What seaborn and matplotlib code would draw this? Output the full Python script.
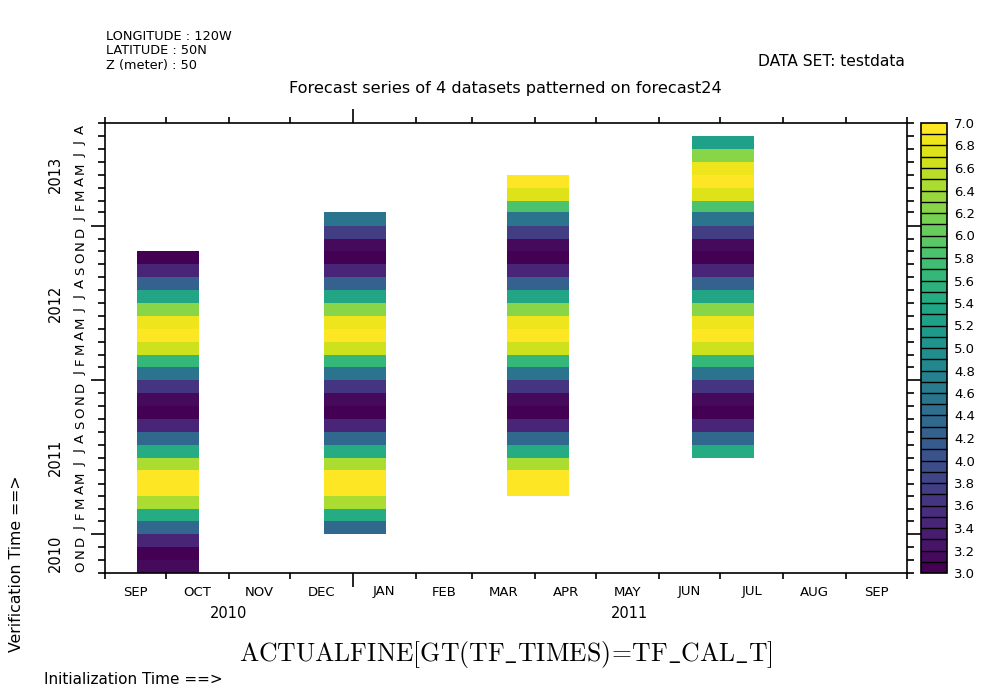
import numpy as np
import pandas as pd
import matplotlib
matplotlib.use("Agg")
import matplotlib.pyplot as plt
import matplotlib.dates as mdates
from matplotlib.colors import ListedColormap
from matplotlib.ticker import FormatStrFormatter
import seaborn as sns

sns.set_theme(style="white")
plt.rcParams['font.family'] = ['DejaVu Sans']
plt.rcParams.update({"text.color": "black", "axes.labelcolor": "black",
                     "xtick.color": "black", "ytick.color": "black"})

# ---------------- data ----------------
init_dates = ["2010-10-01", "2011-01-01", "2011-04-01", "2011-07-01"]
lead_count = 25
verif_start = "2010-10-01"
verif_end = "2013-07-01"
actual_values = [3.15, 3.02, 3.45,
                 4.38, 5.46, 6.40, 6.98, 6.98, 6.40, 5.46, 4.38, 3.45, 3.02, 3.15, 3.60,
                 4.50, 5.68, 6.60, 6.98, 6.88, 6.28, 5.32, 4.20, 3.42, 3.02, 3.15, 3.80,
                 4.60, 5.88, 6.72, 6.98, 6.88, 6.20, 5.28]
x_month_labels = ["SEP", "OCT", "NOV", "DEC", "JAN", "FEB", "MAR", "APR", "MAY",
                  "JUN", "JUL", "AUG", "SEP"]
x_year_labels = ["2010", "2011"]
y_month_letters = ["O", "N", "D",
                   "J", "F", "M", "A", "M", "J", "J", "A", "S", "O", "N", "D",
                   "J", "F", "M", "A", "M", "J", "J", "A", "S", "O", "N", "D",
                   "J", "F", "M", "A", "M", "J", "J", "A"]
y_year_labels = ["2010", "2011", "2012", "2013"]
x_range = ("2010-09-01", "2011-10-01")
y_range = ("2010-10-01", "2013-09-01")
cbar_levels = (3.0, 7.0, 40)

# ---------------- build table ----------------
verif_months = pd.date_range(verif_start, verif_end, freq="MS")
month_edges_all = pd.date_range(verif_start, pd.Timestamp(verif_end) + pd.offsets.MonthBegin(1), freq="MS")
rows = []
for init in init_dates:
    i0 = verif_months.get_loc(pd.Timestamp(init))
    for k in range(lead_count):
        vm = verif_months[i0 + k]
        nxt = vm + pd.offsets.MonthBegin(1)
        mid = vm + (nxt - vm) / 2
        rows.append(dict(init=mdates.date2num(pd.Timestamp(init)),
                         verif=mdates.date2num(mid),
                         value=actual_values[i0 + k]))
df = pd.DataFrame(rows)

lo_w, hi_w = 14.0, 16.5
x_edges = np.sort(np.concatenate([[mdates.date2num(pd.Timestamp(d)) - lo_w,
                                   mdates.date2num(pd.Timestamp(d)) + hi_w] for d in init_dates]))
y_edges = mdates.date2num(month_edges_all)

# ---------------- figure ----------------
W, H = 994, 696
fig = plt.figure(figsize=(W / 100, H / 100), dpi=100)
fig.patch.set_facecolor("white")
L, R, T, B = 105, 907, 123, 573
ax = fig.add_axes([L / W, (H - B) / H, (R - L) / W, (B - T) / H])
cax = fig.add_axes([921 / W, (H - B) / H, 26 / W, (B - T) / H])

vmin, vmax, nlev = cbar_levels
cmap = ListedColormap(matplotlib.colormaps["viridis"](np.linspace(0, 1, nlev))).with_extremes(under=(1, 1, 1, 0))

sns.histplot(data=df, x="init", y="verif", weights="value", bins=(x_edges, y_edges),
             cmap=cmap, vmin=vmin, vmax=vmax, cbar=True, cbar_ax=cax,
             cbar_kws=dict(drawedges=True, ticks=np.round(np.arange(vmin, vmax + 0.01, 0.2), 1)),
             ax=ax)

ax.set_xlim(mdates.date2num(pd.Timestamp(x_range[0])), mdates.date2num(pd.Timestamp(x_range[1])))
ax.set_ylim(mdates.date2num(pd.Timestamp(y_range[0])), mdates.date2num(pd.Timestamp(y_range[1])))
ax.set_xlabel("")
ax.set_ylabel("")
ax.set_facecolor("white")
for s in ax.spines.values():
    s.set_visible(True)
    s.set_color("black")
    s.set_linewidth(1.2)

# x ticks
x_starts = pd.date_range(x_range[0], x_range[1], freq="MS")
x_mids = [a + (b - a) / 2 for a, b in zip(x_starts[:-1], x_starts[1:])]
ax.set_xticks(mdates.date2num(x_starts))
ax.set_xticklabels([""] * len(x_starts))
ax.set_xticks(mdates.date2num(x_mids), minor=True)
ax.set_xticklabels(x_month_labels, minor=True, fontsize=9.5)
ax.tick_params(axis="x", which="major", bottom=True, top=True, direction="out",
               length=4, width=1.2, color="black")
ax.tick_params(axis="x", which="minor", bottom=True, top=False, length=0, pad=9, labelcolor="black")

# y ticks
y_starts = pd.date_range(y_range[0], y_range[1], freq="MS")
y_mids = [a + (b - a) / 2 for a, b in zip(y_starts[:-1], y_starts[1:])]
ax.set_yticks(mdates.date2num(y_starts))
ax.set_yticklabels([""] * len(y_starts))
ax.set_yticks(mdates.date2num(y_mids), minor=True)
ax.set_yticklabels(y_month_letters, minor=True, fontsize=9.5, rotation=90, va="center")
ax.tick_params(axis="y", which="major", left=True, right=True, direction="out",
               length=5, width=1.2, color="black")
ax.tick_params(axis="y", which="minor", left=True, right=False, length=0, pad=13, labelcolor="black")

for t, d in zip(ax.xaxis.get_major_ticks(), x_starts):
    if d.month == 1:
        t.tick1line.set_markersize(10)
        t.tick2line.set_markersize(10)
for t, d in zip(ax.yaxis.get_major_ticks(), y_starts):
    if d.month == 1:
        t.tick1line.set_markersize(10)
        t.tick2line.set_markersize(10)

# year labels
xlo, xhi = ax.get_xlim()
xb = [xlo] + [mdates.date2num(pd.Timestamp(f"{y}-01-01")) for y in x_year_labels[1:]] + [xhi]
for lab, a, b in zip(x_year_labels, xb[:-1], xb[1:]):
    ax.text((a + b) / 2, -0.091, lab, transform=ax.get_xaxis_transform(),
            ha="center", va="center", fontsize=10.5, color="black")
ylo, yhi = ax.get_ylim()
yb = [ylo] + [mdates.date2num(pd.Timestamp(f"{y}-01-01")) for y in y_year_labels[1:]] + [yhi]
for lab, a, b in zip(y_year_labels, yb[:-1], yb[1:]):
    ax.text(-0.0617, (a + b) / 2, lab, transform=ax.get_yaxis_transform(),
            ha="center", va="center", rotation=90, fontsize=10.5, color="black")

# colorbar styling
cb = ax.collections[0].colorbar
cb.outline.set_edgecolor("black")
cb.outline.set_linewidth(1.2)
cb.dividers.set_color("black")
cb.dividers.set_linewidth(1.0)
cax.yaxis.set_major_formatter(FormatStrFormatter("%.1f"))
cax.tick_params(axis="y", length=0, pad=5, labelsize=9.5, labelcolor="black")

# texts
def fx(px):
    return px / W

def fy(py):
    return 1 - py / H

fig.text(fx(106), fy(36), "LONGITUDE : 120W", fontsize=9.3, ha="left", va="center")
fig.text(fx(106), fy(51), "LATITUDE : 50N", fontsize=9.3, ha="left", va="center")
fig.text(fx(106), fy(65.5), "Z (meter) : 50", fontsize=9.3, ha="left", va="center")
fig.text(fx(905), fy(62), "DATA SET: testdata", fontsize=11.2, ha="right", va="center")
fig.text(fx(505), fy(89), "Forecast series of 4 datasets patterned on forecast24",
         fontsize=11.6, ha="center", va="center")
fig.text(fx(506), fy(655), r"$\mathrm{ACTUALFINE[GT(TF\_TIMES)\!=\!TF\_CAL\_T]}$",
         fontsize=18.5, ha="center", va="center", math_fontfamily="cm")
fig.text(fx(44), fy(680), "Initialization Time ==>", fontsize=11, ha="left", va="center")
fig.text(fx(17), fy(652), "Verification Time ==>", fontsize=11.3, ha="center", va="bottom",
         rotation=90)

fig.savefig("out.png", dpi=100)
